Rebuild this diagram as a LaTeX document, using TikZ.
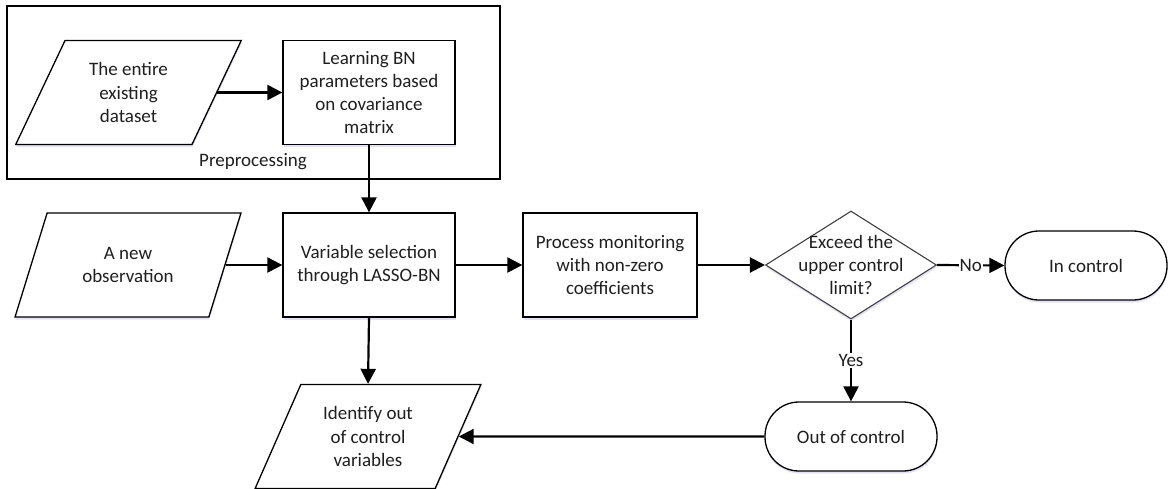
\documentclass[tikz,border=0pt]{standalone}
\usepackage{fontspec}
\setmainfont{Carlito}
\usetikzlibrary{shapes.geometric, arrows.meta, shadows}

\begin{document}
\begin{tikzpicture}[x=1pt, y=-1pt,
  every node/.style={font=\fontsize{19}{23.3}\selectfont, text=black!88},
  soft/.style={drop shadow={shadow xshift=0.5pt, shadow yshift=-2.5pt, opacity=0.16, fill=blue!40!gray}},
  procbox/.style={draw, line width=1.3pt, fill=white, soft, minimum width=172pt, minimum height=104pt, align=center, inner sep=2pt},
  iobox/.style={trapezium, trapezium left angle=63, trapezium right angle=117, trapezium stretches=true,
    draw, line width=1.3pt, fill=white, soft, minimum width=226pt, minimum height=104pt, align=center, inner sep=0pt},
  termbox/.style={draw, line width=1.3pt, fill=white, soft, rounded corners=34pt, minimum height=69pt, align=center},
  decbox/.style={diamond, draw=black!75, line width=1.1pt, fill=white, soft, minimum width=171pt, minimum height=108pt, inner sep=0pt},
  conn/.style={line width=2.2pt, -{Triangle[length=15pt, width=15pt]}},
  lbl/.style={fill=white, inner sep=1pt}
]
\useasboundingbox (0,0) rectangle (1169,488);

% preprocessing group frame
\node[draw, line width=1.3pt, minimum width=493pt, minimum height=173pt, inner sep=0pt] (pre) at (253.5,92.5) {};
\node (prelabel) at (253,162) {Preprocessing};

% nodes
\node[iobox] (data) at (128.5,92.5) {The entire\\existing\\dataset};
\node[procbox] (learn) at (369,92.5) {Learning BN\\parameters based\\on covariance\\matrix};

\node[iobox] (obs) at (128,265) {A new\\observation};
\node[procbox] (select) at (369,265) {Variable selection\\through LASSO-BN};
\node[procbox, minimum width=174pt] (monitor) at (610,265) {Process monitoring\\with non-zero\\coefficients};

\node[decbox] (dec) at (851,265) {};
\node[align=center] (dectext) at (851,265) {Exceed the\\upper control\\limit?};

\node[termbox, minimum width=162pt] (inc) at (1086,265.5) {In control};
\node[termbox, minimum width=172pt] (ooc) at (851,436.5) {Out of control};

\node[iobox] (ident) at (368,436.5) {Identify out\\of control\\variables};

% connectors
\draw[conn] (data.east) -- (learn.west |- data.east);
\draw[conn] (learn.south) -- (select.north);
\draw[conn] (obs.east) -- (select.west |- obs.east);
\draw[conn] (select.east) -- (monitor.west);
\draw[conn] (monitor.east) -- (dec.west);
\draw[conn] (dec.east) -- node[lbl] (nolab) {No} (inc.west);
\draw[conn] (dec.south) -- node[lbl] (yeslab) {Yes} (ooc.north);
\draw[conn] (select.south) -- (ident.north);
\draw[conn] (ooc.west) -- (ident.east);
\end{tikzpicture}
\end{document}
